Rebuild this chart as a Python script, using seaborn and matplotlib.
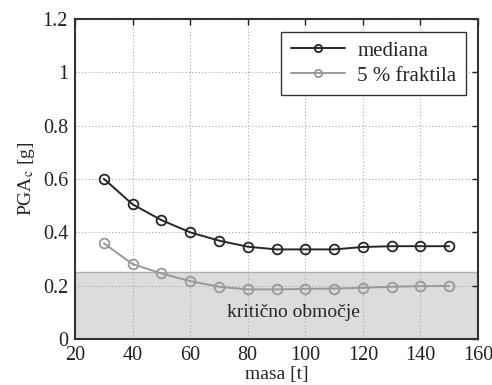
import matplotlib
matplotlib.use("Agg")
import matplotlib.pyplot as plt
import seaborn as sns

# Mass of the structure [t] and critical PGA values [g]
masa = [30, 40, 50, 60, 70, 80, 90, 100, 110, 120, 130, 140, 150]
mediana = [0.601, 0.505, 0.446, 0.400, 0.369, 0.346, 0.336, 0.336, 0.336, 0.345, 0.348, 0.348, 0.348]
fraktila5 = [0.359, 0.281, 0.246, 0.217, 0.196, 0.186, 0.186, 0.188, 0.189, 0.192, 0.196, 0.198, 0.199]
kriticna_meja = 0.25

serije = ["mediana", "5 % fraktila"]
barve = ["#262626", "#999999"]

sns.set_style("white")
plt.rcParams["font.family"] = ["Liberation Serif", "DejaVu Serif"]
plt.rcParams["mathtext.fontset"] = "stix"

fig = plt.figure(figsize=(4.92, 3.85), dpi=100)
ax = fig.add_axes([75 / 492, 1 - 339 / 385, (478 - 75) / 492, (339 - 19) / 385])

# critical zone
ax.axhspan(0, kriticna_meja, facecolor="#dcdcdc", edgecolor="none", zorder=0)
ax.axhline(kriticna_meja, color="#b0b0b0", lw=1.0, zorder=0.5)

for vrednosti, ime, barva in zip([mediana, fraktila5], serije, barve):
    sns.lineplot(x=masa, y=vrednosti, color=barva, label=ime, marker="o",
                 markersize=7, markerfacecolor="none", markeredgecolor=barva,
                 markeredgewidth=1.3, linewidth=1.4, ax=ax, zorder=3)

ax.set_xlim(20, 160)
ax.set_ylim(0, 1.2)
ax.set_xticks(range(20, 161, 20))
ax.set_yticks([0, 0.2, 0.4, 0.6, 0.8, 1.0, 1.2])
ax.set_yticklabels(["0", "0.2", "0.4", "0.6", "0.8", "1", "1.2"])
ax.grid(True, linestyle=(0, (1, 2)), color="#aaaaaa", linewidth=0.8)
ax.set_axisbelow(True)
ax.tick_params(direction="in", length=4, width=1, top=True, right=True,
               labelsize=14.5, colors="#222222", pad=5)
for s in ax.spines.values():
    s.set_linewidth(1.5)
    s.set_color("#333333")

ax.set_xlabel("masa [t]", fontsize=14, labelpad=1)
ax.set_ylabel(r"PGA$_\mathrm{c}$ [g]", fontsize=14, labelpad=4)

ax.text(96, 0.10, "kritično območje", fontsize=14, ha="center", va="center", zorder=4)

leg = ax.legend(loc="upper right", bbox_to_anchor=(0.97, 0.96), borderaxespad=0,
                fontsize=15, frameon=True, fancybox=False, framealpha=1,
                edgecolor="#333333", handlelength=2.6, borderpad=0.45,
                labelspacing=0.25, handletextpad=0.6, markerscale=0.75)
leg.get_frame().set_linewidth(1.0)

fig.savefig("out.png", dpi=100)
